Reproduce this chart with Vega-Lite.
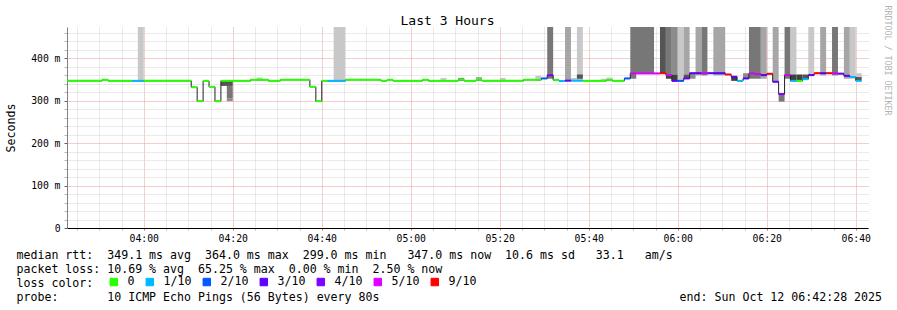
{
 "$schema": "https://vega.github.io/schema/vega-lite/v6.json",
 "width": 801, "height": 201,
 "autosize": {"type": "none"},
 "padding": {"left": 67, "top": 27, "right": 29, "bottom": 82},
 "background": "white",
 "config": {"view": {"stroke": null}, "font": "DejaVu Sans Mono"},
 "title": {"text": "Last 3 Hours", "font": "DejaVu Sans Mono", "fontSize": 13, "fontWeight": "normal", "color": "#000", "anchor": "middle", "frame": "group", "dx": -20, "dy": 36, "offset": 3, "baseline": "alphabetic"},
 "datasets": {
  "med": [
   {"t0":"2025-10-12T03:42:40Z","t1":"2025-10-12T03:50:40Z","med":347,"loss":"0"},
   {"t0":"2025-10-12T03:50:40Z","t1":"2025-10-12T03:52:00Z","med":349.5,"loss":"0"},
   {"t0":"2025-10-12T03:52:00Z","t1":"2025-10-12T03:57:20Z","med":347,"loss":"0"},
   {"t0":"2025-10-12T03:57:20Z","t1":"2025-10-12T04:00:00Z","med":347,"loss":"1/10"},
   {"t0":"2025-10-12T04:00:00Z","t1":"2025-10-12T04:10:40Z","med":347,"loss":"0"},
   {"t0":"2025-10-12T04:10:40Z","t1":"2025-10-12T04:12:00Z","med":332,"loss":"0"},
   {"t0":"2025-10-12T04:12:00Z","t1":"2025-10-12T04:13:20Z","med":299,"loss":"0"},
   {"t0":"2025-10-12T04:13:20Z","t1":"2025-10-12T04:14:40Z","med":347,"loss":"0"},
   {"t0":"2025-10-12T04:14:40Z","t1":"2025-10-12T04:16:00Z","med":333,"loss":"0"},
   {"t0":"2025-10-12T04:16:00Z","t1":"2025-10-12T04:17:20Z","med":299,"loss":"0"},
   {"t0":"2025-10-12T04:17:20Z","t1":"2025-10-12T04:24:00Z","med":347,"loss":"0"},
   {"t0":"2025-10-12T04:24:00Z","t1":"2025-10-12T04:28:00Z","med":349.5,"loss":"0"},
   {"t0":"2025-10-12T04:28:00Z","t1":"2025-10-12T04:30:40Z","med":347,"loss":"0"},
   {"t0":"2025-10-12T04:30:40Z","t1":"2025-10-12T04:37:20Z","med":349.5,"loss":"0"},
   {"t0":"2025-10-12T04:37:20Z","t1":"2025-10-12T04:38:40Z","med":333,"loss":"0"},
   {"t0":"2025-10-12T04:38:40Z","t1":"2025-10-12T04:40:00Z","med":299,"loss":"0"},
   {"t0":"2025-10-12T04:40:00Z","t1":"2025-10-12T04:41:20Z","med":347,"loss":"0"},
   {"t0":"2025-10-12T04:41:20Z","t1":"2025-10-12T04:45:20Z","med":347,"loss":"1/10"},
   {"t0":"2025-10-12T04:45:20Z","t1":"2025-10-12T04:53:20Z","med":349.5,"loss":"0"},
   {"t0":"2025-10-12T04:53:20Z","t1":"2025-10-12T04:54:40Z","med":347,"loss":"0"},
   {"t0":"2025-10-12T04:54:40Z","t1":"2025-10-12T04:56:00Z","med":349.5,"loss":"0"},
   {"t0":"2025-10-12T04:56:00Z","t1":"2025-10-12T05:02:40Z","med":347,"loss":"0"},
   {"t0":"2025-10-12T05:02:40Z","t1":"2025-10-12T05:04:00Z","med":349.5,"loss":"0"},
   {"t0":"2025-10-12T05:04:00Z","t1":"2025-10-12T05:10:40Z","med":347,"loss":"0"},
   {"t0":"2025-10-12T05:10:40Z","t1":"2025-10-12T05:12:00Z","med":349.5,"loss":"0"},
   {"t0":"2025-10-12T05:12:00Z","t1":"2025-10-12T05:14:40Z","med":347,"loss":"0"},
   {"t0":"2025-10-12T05:14:40Z","t1":"2025-10-12T05:16:00Z","med":349.5,"loss":"0"},
   {"t0":"2025-10-12T05:16:00Z","t1":"2025-10-12T05:25:20Z","med":347,"loss":"0"},
   {"t0":"2025-10-12T05:25:20Z","t1":"2025-10-12T05:29:20Z","med":349.5,"loss":"0"},
   {"t0":"2025-10-12T05:29:20Z","t1":"2025-10-12T05:30:40Z","med":352.7,"loss":"2/10"},
   {"t0":"2025-10-12T05:30:40Z","t1":"2025-10-12T05:32:00Z","med":360,"loss":"4/10"},
   {"t0":"2025-10-12T05:32:00Z","t1":"2025-10-12T05:33:20Z","med":348.8,"loss":"0"},
   {"t0":"2025-10-12T05:33:20Z","t1":"2025-10-12T05:34:40Z","med":346.5,"loss":"1/10"},
   {"t0":"2025-10-12T05:34:40Z","t1":"2025-10-12T05:36:00Z","med":347.5,"loss":"3/10"},
   {"t0":"2025-10-12T05:36:00Z","t1":"2025-10-12T05:38:40Z","med":347.5,"loss":"1/10"},
   {"t0":"2025-10-12T05:38:40Z","t1":"2025-10-12T05:44:00Z","med":347,"loss":"0"},
   {"t0":"2025-10-12T05:44:00Z","t1":"2025-10-12T05:45:20Z","med":349,"loss":"0"},
   {"t0":"2025-10-12T05:45:20Z","t1":"2025-10-12T05:48:00Z","med":347,"loss":"0"},
   {"t0":"2025-10-12T05:48:00Z","t1":"2025-10-12T05:49:20Z","med":352.7,"loss":"2/10"},
   {"t0":"2025-10-12T05:49:20Z","t1":"2025-10-12T05:56:00Z","med":364.5,"loss":"5/10"},
   {"t0":"2025-10-12T05:56:00Z","t1":"2025-10-12T05:57:20Z","med":365,"loss":"9/10"},
   {"t0":"2025-10-12T05:57:20Z","t1":"2025-10-12T05:58:40Z","med":360.6,"loss":"5/10"},
   {"t0":"2025-10-12T05:58:40Z","t1":"2025-10-12T06:00:00Z","med":347,"loss":"3/10"},
   {"t0":"2025-10-12T06:00:00Z","t1":"2025-10-12T06:01:20Z","med":347,"loss":"2/10"},
   {"t0":"2025-10-12T06:01:20Z","t1":"2025-10-12T06:02:40Z","med":352.7,"loss":"3/10"},
   {"t0":"2025-10-12T06:02:40Z","t1":"2025-10-12T06:05:20Z","med":365,"loss":"3/10"},
   {"t0":"2025-10-12T06:05:20Z","t1":"2025-10-12T06:06:40Z","med":365,"loss":"5/10"},
   {"t0":"2025-10-12T06:06:40Z","t1":"2025-10-12T06:10:40Z","med":365,"loss":"3/10"},
   {"t0":"2025-10-12T06:10:40Z","t1":"2025-10-12T06:12:00Z","med":362,"loss":"9/10"},
   {"t0":"2025-10-12T06:12:00Z","t1":"2025-10-12T06:13:20Z","med":356.7,"loss":"3/10"},
   {"t0":"2025-10-12T06:13:20Z","t1":"2025-10-12T06:14:40Z","med":347,"loss":"1/10"},
   {"t0":"2025-10-12T06:14:40Z","t1":"2025-10-12T06:16:00Z","med":352.7,"loss":"3/10"},
   {"t0":"2025-10-12T06:16:00Z","t1":"2025-10-12T06:17:20Z","med":364.5,"loss":"5/10"},
   {"t0":"2025-10-12T06:17:20Z","t1":"2025-10-12T06:18:40Z","med":363,"loss":"5/10"},
   {"t0":"2025-10-12T06:18:40Z","t1":"2025-10-12T06:20:00Z","med":360.6,"loss":"3/10"},
   {"t0":"2025-10-12T06:20:00Z","t1":"2025-10-12T06:21:20Z","med":363.7,"loss":"9/10"},
   {"t0":"2025-10-12T06:21:20Z","t1":"2025-10-12T06:22:40Z","med":344.9,"loss":"3/10"},
   {"t0":"2025-10-12T06:22:40Z","t1":"2025-10-12T06:24:00Z","med":315.8,"loss":"4/10"},
   {"t0":"2025-10-12T06:24:00Z","t1":"2025-10-12T06:25:20Z","med":360.6,"loss":"5/10"},
   {"t0":"2025-10-12T06:25:20Z","t1":"2025-10-12T06:26:40Z","med":347,"loss":"1/10"},
   {"t0":"2025-10-12T06:26:40Z","t1":"2025-10-12T06:28:00Z","med":347,"loss":"0"},
   {"t0":"2025-10-12T06:28:00Z","t1":"2025-10-12T06:29:20Z","med":351,"loss":"1/10"},
   {"t0":"2025-10-12T06:29:20Z","t1":"2025-10-12T06:30:40Z","med":360.6,"loss":"3/10"},
   {"t0":"2025-10-12T06:30:40Z","t1":"2025-10-12T06:32:00Z","med":365,"loss":"9/10"},
   {"t0":"2025-10-12T06:32:00Z","t1":"2025-10-12T06:33:20Z","med":365,"loss":"3/10"},
   {"t0":"2025-10-12T06:33:20Z","t1":"2025-10-12T06:34:40Z","med":365,"loss":"9/10"},
   {"t0":"2025-10-12T06:34:40Z","t1":"2025-10-12T06:36:00Z","med":365,"loss":"5/10"},
   {"t0":"2025-10-12T06:36:00Z","t1":"2025-10-12T06:37:20Z","med":364,"loss":"3/10"},
   {"t0":"2025-10-12T06:37:20Z","t1":"2025-10-12T06:38:40Z","med":359,"loss":"3/10"},
   {"t0":"2025-10-12T06:38:40Z","t1":"2025-10-12T06:40:00Z","med":356,"loss":"1/10"},
   {"t0":"2025-10-12T06:40:00Z","t1":"2025-10-12T06:41:20Z","med":347,"loss":"1/10"}
  ],
  "smoke": [
   {"t0":"2025-10-12T03:58:40Z","t1":"2025-10-12T04:00:00Z","lo":347,"hi":474,"shade":6},
   {"t0":"2025-10-12T04:17:20Z","t1":"2025-10-12T04:20:00Z","lo":335,"hi":347,"shade":2},
   {"t0":"2025-10-12T04:18:40Z","t1":"2025-10-12T04:20:00Z","lo":305,"hi":335,"shade":3},
   {"t0":"2025-10-12T04:18:40Z","t1":"2025-10-12T04:20:00Z","lo":299,"hi":305,"shade":4},
   {"t0":"2025-10-12T04:25:20Z","t1":"2025-10-12T04:26:40Z","lo":347,"hi":355,"shade":6},
   {"t0":"2025-10-12T04:42:40Z","t1":"2025-10-12T04:45:20Z","lo":347,"hi":474,"shade":6},
   {"t0":"2025-10-12T05:06:40Z","t1":"2025-10-12T05:08:00Z","lo":347,"hi":354,"shade":6},
   {"t0":"2025-10-12T05:10:40Z","t1":"2025-10-12T05:12:00Z","lo":347,"hi":354,"shade":4},
   {"t0":"2025-10-12T05:14:40Z","t1":"2025-10-12T05:16:00Z","lo":347,"hi":356,"shade":5},
   {"t0":"2025-10-12T05:20:00Z","t1":"2025-10-12T05:21:20Z","lo":347,"hi":354,"shade":6},
   {"t0":"2025-10-12T05:28:00Z","t1":"2025-10-12T05:29:20Z","lo":347,"hi":359,"shade":6},
   {"t0":"2025-10-12T05:30:40Z","t1":"2025-10-12T05:32:00Z","lo":352,"hi":474,"shade":3},
   {"t0":"2025-10-12T05:32:00Z","t1":"2025-10-12T05:33:20Z","lo":347,"hi":352,"shade":6},
   {"t0":"2025-10-12T05:34:40Z","t1":"2025-10-12T05:36:00Z","lo":347,"hi":474,"shade":5},
   {"t0":"2025-10-12T05:36:00Z","t1":"2025-10-12T05:37:20Z","lo":347,"hi":354,"shade":6},
   {"t0":"2025-10-12T05:37:20Z","t1":"2025-10-12T05:38:40Z","lo":347,"hi":474,"shade":6},
   {"t0":"2025-10-12T05:37:20Z","t1":"2025-10-12T05:38:40Z","lo":352,"hi":362,"shade":2},
   {"t0":"2025-10-12T05:42:40Z","t1":"2025-10-12T05:44:00Z","lo":347,"hi":352,"shade":6},
   {"t0":"2025-10-12T05:44:00Z","t1":"2025-10-12T05:45:20Z","lo":347,"hi":355,"shade":6},
   {"t0":"2025-10-12T05:49:20Z","t1":"2025-10-12T05:54:40Z","lo":365,"hi":474,"shade":3},
   {"t0":"2025-10-12T05:49:20Z","t1":"2025-10-12T05:50:40Z","lo":352,"hi":365,"shade":3},
   {"t0":"2025-10-12T05:56:00Z","t1":"2025-10-12T05:57:20Z","lo":365,"hi":474,"shade":2},
   {"t0":"2025-10-12T05:57:20Z","t1":"2025-10-12T05:58:40Z","lo":360,"hi":474,"shade":3},
   {"t0":"2025-10-12T05:57:20Z","t1":"2025-10-12T05:58:40Z","lo":352,"hi":360,"shade":1},
   {"t0":"2025-10-12T05:58:40Z","t1":"2025-10-12T06:00:00Z","lo":362,"hi":474,"shade":4},
   {"t0":"2025-10-12T05:58:40Z","t1":"2025-10-12T06:00:00Z","lo":347,"hi":362,"shade":1},
   {"t0":"2025-10-12T06:00:00Z","t1":"2025-10-12T06:01:20Z","lo":347,"hi":474,"shade":6},
   {"t0":"2025-10-12T06:01:20Z","t1":"2025-10-12T06:02:40Z","lo":362,"hi":474,"shade":5},
   {"t0":"2025-10-12T06:01:20Z","t1":"2025-10-12T06:02:40Z","lo":352,"hi":362,"shade":2},
   {"t0":"2025-10-12T06:02:40Z","t1":"2025-10-12T06:04:00Z","lo":352,"hi":365,"shade":4},
   {"t0":"2025-10-12T06:04:00Z","t1":"2025-10-12T06:05:20Z","lo":360,"hi":474,"shade":5},
   {"t0":"2025-10-12T06:05:20Z","t1":"2025-10-12T06:06:40Z","lo":360,"hi":474,"shade":3},
   {"t0":"2025-10-12T06:08:00Z","t1":"2025-10-12T06:10:40Z","lo":360,"hi":474,"shade":5},
   {"t0":"2025-10-12T06:12:00Z","t1":"2025-10-12T06:13:20Z","lo":347,"hi":357,"shade":1},
   {"t0":"2025-10-12T06:14:40Z","t1":"2025-10-12T06:16:00Z","lo":352,"hi":365,"shade":4},
   {"t0":"2025-10-12T06:16:00Z","t1":"2025-10-12T06:18:40Z","lo":352,"hi":474,"shade":3},
   {"t0":"2025-10-12T06:18:40Z","t1":"2025-10-12T06:20:00Z","lo":352,"hi":474,"shade":5},
   {"t0":"2025-10-12T06:21:20Z","t1":"2025-10-12T06:22:40Z","lo":345,"hi":474,"shade":5},
   {"t0":"2025-10-12T06:22:40Z","t1":"2025-10-12T06:24:00Z","lo":298,"hi":316,"shade":3},
   {"t0":"2025-10-12T06:24:00Z","t1":"2025-10-12T06:25:20Z","lo":352,"hi":474,"shade":3},
   {"t0":"2025-10-12T06:25:20Z","t1":"2025-10-12T06:26:40Z","lo":362,"hi":474,"shade":6},
   {"t0":"2025-10-12T06:25:20Z","t1":"2025-10-12T06:26:40Z","lo":347,"hi":362,"shade":1},
   {"t0":"2025-10-12T06:26:40Z","t1":"2025-10-12T06:28:00Z","lo":347,"hi":362,"shade":1},
   {"t0":"2025-10-12T06:28:00Z","t1":"2025-10-12T06:29:20Z","lo":351,"hi":362,"shade":2},
   {"t0":"2025-10-12T06:29:20Z","t1":"2025-10-12T06:30:40Z","lo":360,"hi":474,"shade":6},
   {"t0":"2025-10-12T06:32:00Z","t1":"2025-10-12T06:33:20Z","lo":360,"hi":474,"shade":5},
   {"t0":"2025-10-12T06:34:40Z","t1":"2025-10-12T06:36:00Z","lo":360,"hi":474,"shade":3},
   {"t0":"2025-10-12T06:37:20Z","t1":"2025-10-12T06:38:40Z","lo":352,"hi":474,"shade":5},
   {"t0":"2025-10-12T06:38:40Z","t1":"2025-10-12T06:40:00Z","lo":352,"hi":474,"shade":6},
   {"t0":"2025-10-12T06:40:00Z","t1":"2025-10-12T06:41:20Z","lo":347,"hi":356,"shade":2},
   {"t0":"2025-10-12T06:40:00Z","t1":"2025-10-12T06:41:20Z","lo":356,"hi":365,"shade":6}
  ]
 },
 "layer": [
  {
   "data": {"name": "smoke"},
   "mark": {"type": "rect", "clip": true},
   "encoding": {
    "x": {"field": "t0", "type": "temporal",
     "scale": {"type": "utc", "domain": [{"year":2025,"month":10,"date":12,"hours":3,"minutes":42,"seconds":45,"utc":true},{"year":2025,"month":10,"date":12,"hours":6,"minutes":42,"seconds":45,"utc":true}]},
     "axis": {
      "format": "%H:%M", "tickCount": 36,
      "labelExpr": "(slice(datum.label, 3) === '00' || slice(datum.label, 3) === '20' || slice(datum.label, 3) === '40') ? datum.label : ''",
      "labelFont": "DejaVu Sans Mono", "labelFontSize": 9.75, "labelColor": "#000", "labelPadding": 3,
      "grid": true,
      "gridColor": {"condition": {"test": "(datum.value / 60000) % 20 === 0", "value": "#eb9a9a"}, "value": "#d4d4d4"},
      "gridDash": [1, 1], "tickSize": 2,
      "tickColor": {"condition": {"test": "(datum.value / 60000) % 20 === 0", "value": "#e06060"}, "value": "#b8b8b8"},
      "domainColor": "#000",
      "title": ["median rtt:\u00a0\u00a0349.1 ms avg\u00a0\u00a0364.0 ms max\u00a0\u00a0299.0 ms min\u00a0\u00a0\u00a0347.0 ms now\u00a0\u00a010.6 ms sd\u00a0\u00a0\u00a033.1\u00a0\u00a0\u00a0am/s", "packet loss: 10.69 % avg\u00a0\u00a065.25 % max\u00a0\u00a00.00 % min\u00a0\u00a02.50 % now", "loss color:", "probe:\u00a0\u00a0\u00a0\u00a0\u00a0\u00a0\u00a010 ICMP Echo Pings (56 Bytes) every 80s\u00a0\u00a0\u00a0\u00a0\u00a0\u00a0\u00a0\u00a0\u00a0\u00a0\u00a0\u00a0\u00a0\u00a0\u00a0\u00a0\u00a0\u00a0\u00a0\u00a0\u00a0\u00a0\u00a0\u00a0\u00a0\u00a0\u00a0\u00a0\u00a0\u00a0\u00a0\u00a0\u00a0\u00a0\u00a0\u00a0\u00a0\u00a0\u00a0\u00a0\u00a0\u00a0\u00a0end: Sun Oct 12 06:42:28 2025"],
      "titleFont": "DejaVu Sans Mono", "titleFontSize": 11.6, "titleFontWeight": "normal", "titleColor": "#000",
      "titleAnchor": "start", "titleAlign": "left", "titleBaseline": "top", "titleX": -51, "titleY": 21, "titleLineHeight": 14
     }
    },
    "x2": {"field": "t1"},
    "y": {"field": "lo", "type": "quantitative",
     "scale": {"domain": [0, 474], "nice": false, "zero": true},
     "axis": {
      "values": [0,20,40,60,80,100,120,140,160,180,200,220,240,260,280,300,320,340,360,380,400,420,440,460],
      "labelExpr": "datum.value % 100 === 0 ? (datum.value === 0 ? '0' : datum.value + ' m') : ''",
      "labelFont": "DejaVu Sans Mono", "labelFontSize": 9.75, "labelColor": "#000", "labelPadding": 4,
      "grid": true,
      "gridColor": {"condition": {"test": "datum.value % 100 === 0", "value": "#eb9a9a"}, "value": "#d4d4d4"},
      "gridDash": [1, 1],
      "tickSize": 3,
      "tickColor": {"condition": {"test": "datum.value % 100 === 0", "value": "#606060"}, "value": "#b8b8b8"},
      "domainColor": "#808080",
      "title": "Seconds", "titleFont": "DejaVu Sans Mono", "titleFontSize": 11.6, "titleFontWeight": "normal", "titleColor": "#000",
      "titleAngle": -90, "titleX": -56, "titleY": 100.5, "titleAlign": "center", "titleBaseline": "middle"
     }
    },
    "y2": {"field": "hi"},
    "fill": {"field": "shade", "type": "ordinal", "scale": {"domain": [1,2,3,4,5,6], "range": ["#404040","#555555","#777777","#8c8c8c","#a6a6a6","#c8c8c8"]}, "legend": null}
   }
  },
  {
   "data": {"name": "med"},
   "mark": {"type": "line", "interpolate": "step-after", "color": "#202020", "strokeWidth": 1, "clip": true},
   "encoding": {
    "x": {"field": "t0", "type": "temporal"},
    "y": {"field": "med", "type": "quantitative", "axis": null}
   }
  },
  {
   "data": {"name": "med"},
   "mark": {"type": "rule", "strokeWidth": 2, "clip": true},
   "encoding": {
    "x": {"field": "t0", "type": "temporal"},
    "x2": {"field": "t1"},
    "y": {"field": "med", "type": "quantitative",
     "axis": {"orient": "right", "labels": false, "ticks": false, "domain": false, "grid": false,
      "title": "RRDTOOL / TOBI OETIKER", "titleFont": "DejaVu Sans Mono", "titleFontSize": 8.3, "titleFontWeight": "normal", "titleColor": "#b4b4b4",
      "titleAngle": 90, "titleX": 18, "titleY": 33, "titleAlign": "center", "titleBaseline": "middle"}
    },
    "color": {"field": "loss", "type": "nominal",
     "scale": {"domain": ["0","1/10","2/10","3/10","4/10","5/10","9/10"], "range": ["#26ff00","#00b8ff","#0059ff","#5e00ff","#7e00ff","#dd00ff","#ff0000"]},
     "legend": {"orient": "none", "legendX": 41, "legendY": 249, "direction": "horizontal", "title": null,
      "symbolType": "square", "symbolSize": 56,
      "labelFont": "DejaVu Sans Mono", "labelFontSize": 11.6, "labelColor": "#000", "labelOffset": 8, "columnPadding": 9, "padding": 0,
      "encode": {"symbols": {"update": {"fill": {"scale": "color", "field": "value"}, "stroke": {"value": "#000"}, "strokeWidth": {"value": 1}}}}}
    }
   }
  }
 ],
 "resolve": {"axis": {"y": "independent"}}
}
